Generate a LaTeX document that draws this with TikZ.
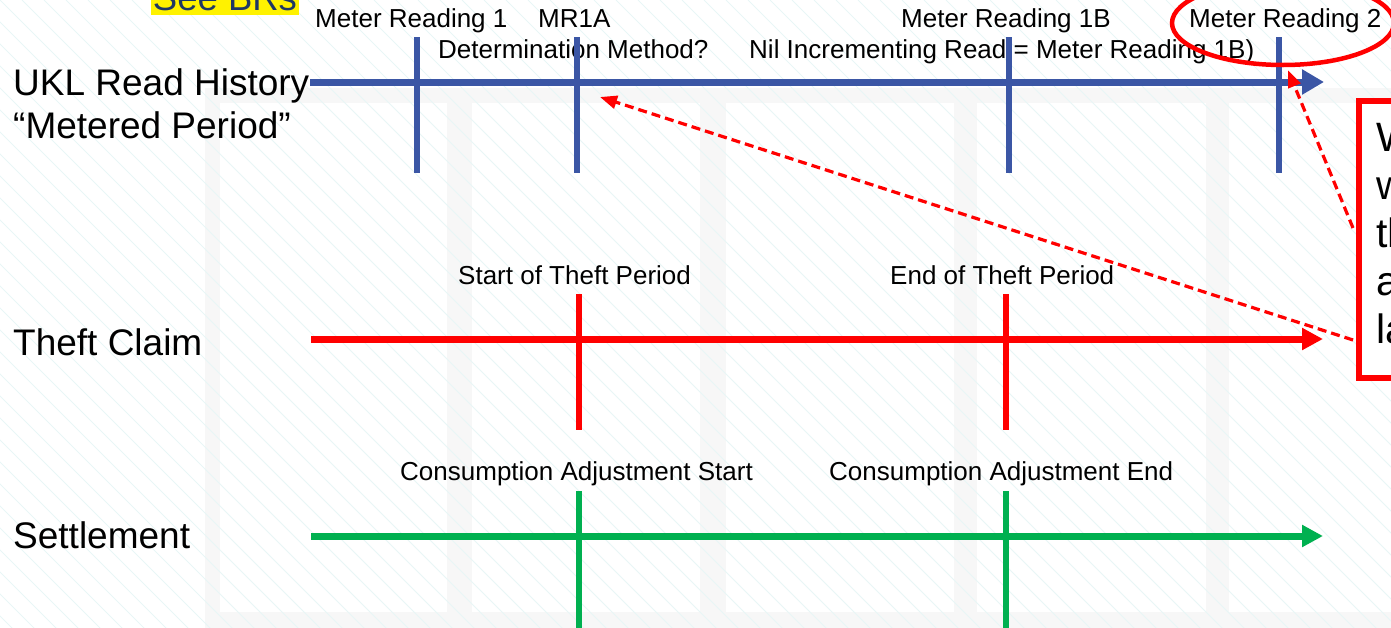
\documentclass[tikz,border=0pt]{standalone}
\usepackage{fontspec}
\setmainfont{Liberation Sans}
\usetikzlibrary{arrows.meta,shapes.geometric,calc}
\definecolor{ublue}{RGB}{59,86,165}
\definecolor{ured}{RGB}{255,0,0}
\definecolor{ugreen}{RGB}{0,176,80}
\definecolor{stripecol}{RGB}{232,246,246}
\definecolor{navy}{RGB}{31,56,100}
\definecolor{panelgray}{RGB}{247,247,247}
\begin{document}
\begin{tikzpicture}[x=1pt,y=-1pt,
  big/.style={font=\fontsize{37}{40}\selectfont, inner sep=0pt, anchor=base west},
  small/.style={font=\fontsize{26}{30}\selectfont, inner sep=0pt, anchor=base west},
  boxtxt/.style={font=\fontsize{41}{48}\selectfont, inner sep=0pt, anchor=base west},
  bluemain/.style={ublue, line width=7pt, -{Triangle[length=22pt,width=24pt]}},
  redmain/.style={ured, line width=7pt, -{Triangle[length=21pt,width=21pt]}},
  greenmain/.style={ugreen, line width=7pt, -{Triangle[length=21pt,width=21pt]}},
  bluetick/.style={ublue, line width=6.5pt},
  redtick/.style={ured, line width=5.5pt},
  greentick/.style={ugreen, line width=5.5pt},
  dasharrow/.style={ured, line width=3.2pt, dash pattern=on 9pt off 5pt, -{Triangle[length=17pt,width=13pt]}},
  panel/.style={fill=white, draw=none}
]
\useasboundingbox (0,0) rectangle (1391,627);
\begin{scope}
\clip (0,0) rectangle (1391,627);
% faint background panels
\fill[panelgray] (205,88) rectangle (1400,640);
\fill[panel] (220,103) rectangle (447,612);
\fill[panel] (472,103) rectangle (700,612);
\fill[panel] (726,103) rectangle (954,612);
\fill[panel] (977,103) rectangle (1206,612);
\fill[panel] (1229,103) rectangle (1400,612);
% faint diagonal stripes
\foreach \k in {-30,...,64} {
  \draw[stripecol, line width=0.8pt] (\k*22,0) -- (\k*22+640,640);
}

% See BRs
\node[anchor=base, fill=yellow, inner xsep=2pt, inner ysep=0pt, text depth=5pt, text=navy,
      font=\fontsize{36.5}{40}\selectfont] (brs) at (225,10) {See BRs};

% left labels
\node[big] (ukl) at (13,95) {UKL Read History};
\node[big] (mp) at (13,138) {“Metered Period”};
\node[big] (tc) at (13,355) {Theft Claim};
\node[big] (st) at (13,548) {Settlement};

% top labels
\node[small] (mr1) at (315,27) {Meter Reading 1};
\node[small] (mr1a) at (538,27) {MR1A};
\node[small] (mr1b) at (901,27) {Meter Reading 1B};
\node[small] (mr2) at (1189,27) {Meter Reading 2};
\node[small] (dm) at (438,58) {Determination Method?};
\node[small] (nil) at (749,58) {Nil Incrementing Read = Meter Reading 1B)};

% theft / settlement labels
\node[small] (sot) at (458,284) {Start of Theft Period};
\node[small] (eot) at (890,284) {End of Theft Period};
\node[small] (cas) at (400,480) {Consumption Adjustment Start};
\node[small] (cae) at (829,480) {Consumption Adjustment End};

% timeline coordinates
\coordinate (bs) at (310,82);  \coordinate (be) at (1324,82);
\coordinate (rs) at (311,339); \coordinate (re) at (1323,339);
\coordinate (gs) at (311,536); \coordinate (ge) at (1323,536);

% blue timeline
\draw[bluetick] (417,37) coordinate (b1t) -- (417,173) coordinate (b1b);
\draw[bluetick] (577,37) coordinate (b2t) -- (577,173) coordinate (b2b);
\draw[bluetick] (1009,37) coordinate (b3t) -- (1009,173) coordinate (b3b);
\draw[bluetick] (1279,37) coordinate (b4t) -- (1279,173) coordinate (b4b);
\draw[bluemain] (bs) -- (be);

% red timeline
\draw[redmain] (rs) -- (re);
\draw[redtick] (579,294) coordinate (r1t) -- (579,430) coordinate (r1b);
\draw[redtick] (1006,294) coordinate (r2t) -- (1006,430) coordinate (r2b);

% green timeline
\draw[greenmain] (gs) -- (ge);
\draw[greentick] (579,491) coordinate (g1t) -- (579,640) coordinate (g1b);
\draw[greentick] (1006,491) coordinate (g2t) -- (1006,640) coordinate (g2b);

% ellipse around Meter Reading 2
\node[ellipse, draw=ured, line width=4.5pt, minimum width=222pt, minimum height=84pt, inner sep=0pt] (circ) at (1283,23) {};

% callout box
\node[draw=ured, line width=6pt, fill=white, anchor=north west, minimum width=120pt, minimum height=277pt, inner sep=0pt] (callout) at (1356,98) {};
\node[boxtxt] (c1) at (1376,151) {W};
\node[boxtxt] (c2) at (1376,199) {w};
\node[boxtxt] (c3) at (1376,247) {th};
\node[boxtxt] (c4) at (1376,295) {a};
\node[boxtxt] (c5) at (1376,343) {la};

% dashed arrows
\coordinate (d1) at ($(callout.north west)+(-3,130)$);
\coordinate (d2) at ($(callout.north west)+(-3,242)$);
\coordinate (a1) at (600,97);
\coordinate (a2) at ($(circ.south)+(5,3)$);
\draw[dasharrow] (d1) -- (a2);
\draw[dasharrow] (d2) -- (a1);
\end{scope}
\end{tikzpicture}
\end{document}
